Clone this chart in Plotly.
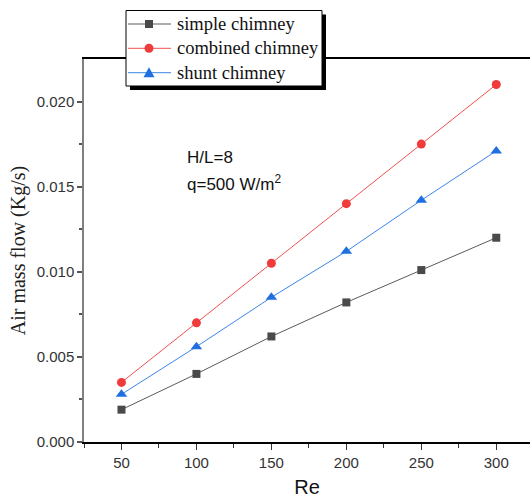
import plotly.graph_objects as go

re_vals = [50, 100, 150, 200, 250, 300]
simple = [0.0019, 0.0040, 0.0062, 0.0082, 0.0101, 0.0120]
combined = [0.0035, 0.0070, 0.0105, 0.0140, 0.0175, 0.0210]
shunt = [0.0028, 0.0056, 0.0085, 0.0112, 0.0142, 0.0171]
names = ["simple chimney", "combined chimney", "shunt chimney"]

line_colors = ["#5a5a5a", "#f05050", "#3a86e8"]
marker_colors = ["#4a4a4a", "#ef3b3b", "#1f6fe0"]

W, H = 530, 498
ML, MR, MT, MB = 84, 0, 59, 56

fig = go.Figure()
fig.add_trace(go.Scatter(x=re_vals, y=simple, name=names[0], mode="lines+markers",
                         line=dict(color=line_colors[0], width=1),
                         marker=dict(symbol="square", size=8, color=marker_colors[0])))
fig.add_trace(go.Scatter(x=re_vals, y=combined, name=names[1], mode="lines+markers",
                         line=dict(color=line_colors[1], width=1),
                         marker=dict(symbol="circle", size=9, color=marker_colors[1])))
fig.add_trace(go.Scatter(x=re_vals, y=shunt, name=names[2], mode="lines+markers",
                         line=dict(color=line_colors[2], width=1),
                         marker=dict(symbol="triangle-up", size=10, color=marker_colors[2])))

plot_h = H - MT - MB
plot_w = W - ML - MR


def px_x(p):
    return (p - ML) / plot_w


def px_y(p):
    return (H - MB - p) / plot_h


# ---- legend box drawn with shapes (Origin style, with drop shadow) ----
LX0, LX1, LY0, LY1 = 126, 322, 10.5, 86
SH = 4
fig.add_shape(type="rect", xref="paper", yref="paper",
              x0=px_x(LX0 + SH), x1=px_x(LX1 + SH), y0=px_y(LY1 + SH), y1=px_y(LY0 + SH),
              fillcolor="black", line=dict(width=0), layer="above")
fig.add_shape(type="rect", xref="paper", yref="paper",
              x0=px_x(LX0), x1=px_x(LX1), y0=px_y(LY1), y1=px_y(LY0),
              fillcolor="white", line=dict(color="black", width=1), layer="above")

rows = [24, 48.3, 72.7]
for i, (nm, ry) in enumerate(zip(names, rows)):
    fig.add_shape(type="line", xref="paper", yref="paper",
                  x0=px_x(128), x1=px_x(171), y0=px_y(ry), y1=px_y(ry),
                  line=dict(color=line_colors[i], width=1), layer="above")
    cx = 149
    if i == 0:
        fig.add_shape(type="rect", xref="paper", yref="paper",
                      x0=px_x(cx - 4), x1=px_x(cx + 4), y0=px_y(ry + 4), y1=px_y(ry - 4),
                      fillcolor=marker_colors[i], line=dict(width=0), layer="above")
    elif i == 1:
        fig.add_shape(type="circle", xref="paper", yref="paper",
                      x0=px_x(cx - 4.5), x1=px_x(cx + 4.5), y0=px_y(ry + 4.5), y1=px_y(ry - 4.5),
                      fillcolor=marker_colors[i], line=dict(width=0), layer="above")
    else:
        path = "M {:.5f},{:.5f} L {:.5f},{:.5f} L {:.5f},{:.5f} Z".format(
            px_x(cx - 5.5), px_y(ry + 4.5), px_x(cx + 5.5), px_y(ry + 4.5), px_x(cx), px_y(ry - 5.5))
        fig.add_shape(type="path", xref="paper", yref="paper", path=path,
                      fillcolor=marker_colors[i], line=dict(width=0), layer="above")
    fig.add_annotation(x=px_x(175), y=px_y(ry), xref="paper", yref="paper",
                       text=nm, showarrow=False, xanchor="left", yanchor="middle",
                       font=dict(family="Liberation Serif, Times New Roman", size=18.5, color="#111"))

fig.add_annotation(x=px_x(185), y=px_y(157), xref="paper", yref="paper",
                   text="H/L=8", showarrow=False, xanchor="left", yanchor="middle",
                   font=dict(family="Liberation Sans, Arial", size=17, color="#111"))
fig.add_annotation(x=px_x(185), y=px_y(183), xref="paper", yref="paper",
                   text="q=500 W/m<sup>2</sup>", showarrow=False, xanchor="left", yanchor="middle",
                   font=dict(family="Liberation Sans, Arial", size=17, color="#111"))

fig.update_layout(
    width=W, height=H,
    margin=dict(l=ML, r=MR, t=MT, b=MB, autoexpand=False),
    paper_bgcolor="white", plot_bgcolor="white",
    showlegend=False,
)

fig.update_xaxes(
    range=[25, 322.5], tickvals=[50, 100, 150, 200, 250, 300],
    showgrid=False, zeroline=False,
    showline=True, linecolor="black", linewidth=2, mirror=True,
    ticks="outside", ticklen=6, tickwidth=1, tickcolor="#333",
    minor=dict(tickvals=[25, 75, 125, 175, 225, 275], ticks="outside", ticklen=4, tickcolor="#333"),
    tickfont=dict(family="Liberation Sans, Arial", size=15, color="#333"),
    title=dict(text="Re", font=dict(family="Liberation Sans, Arial", size=20, color="#111"), standoff=19),
)
fig.update_yaxes(
    range=[0, 0.0225], tickvals=[0, 0.005, 0.010, 0.015, 0.020],
    ticktext=["0.000", "0.005", "0.010", "0.015", "0.020"],
    showgrid=False, zeroline=False,
    showline=True, linecolor="#808080", linewidth=1.5,
    ticks="outside", ticklen=5, tickwidth=1.5, tickcolor="#555",
    minor=dict(tickvals=[0.0025, 0.0075, 0.0125, 0.0175], ticks="outside", ticklen=3, tickcolor="#555"),
    tickfont=dict(family="Liberation Sans, Arial", size=15, color="#333"),
    title=dict(text="Air mass flow (Kg/s)", font=dict(family="Liberation Serif, Times New Roman", size=20, color="#222"), standoff=6),
)

fig.write_html("out.html", config={"displayModeBar": False},
               post_script="document.body.style.margin='0';document.body.style.overflow='hidden';")
